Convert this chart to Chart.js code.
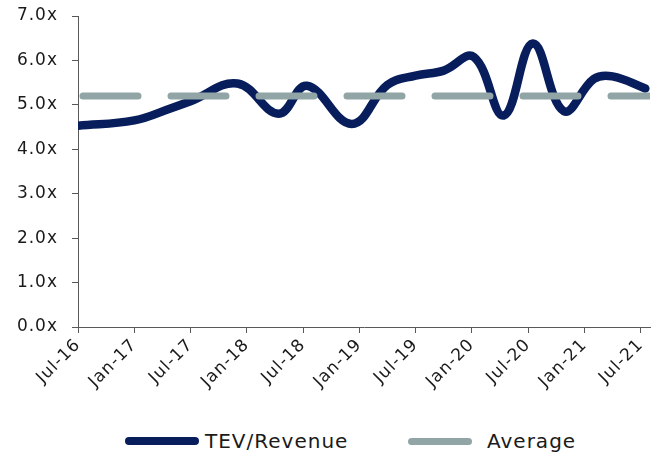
<!DOCTYPE html>
<html>
<head>
<meta charset="utf-8">
<script src="https://cdn.jsdelivr.net/npm/chart.js@4"></script>
<style>
  html, body { margin: 0; padding: 0; background: #fff; }
  #wrap { position: relative; width: 651px; height: 455px; }
  #chart-box { position: absolute; left: 0; top: 0; width: 651px; height: 397px; }
  .legend-item { position: absolute; top: 428px; height: 26px; display: flex; align-items: center;
    font-family: "DejaVu Sans", sans-serif; font-size: 20px; color: #1a1a1a; letter-spacing: 1px; }
  .legend-line { display: inline-block; border-radius: 5px; }
</style>
</head>
<body>
<div id="wrap">
  <div id="chart-box"><canvas id="multiples-chart"></canvas></div>
  <div class="legend-item" style="left:125px;">
    <span class="legend-line" style="width:74px;height:8px;background:#071D5C;margin-right:6px;"></span>TEV/Revenue
  </div>
  <div class="legend-item" style="left:408px;">
    <span class="legend-line" style="width:64px;height:7px;background:#91A4A6;margin-right:15px;"></span>Average
  </div>
</div>
<script>
// --- Data (months counted from Jul-16) ---
const tickLabels = ['Jul-16', 'Jan-17', 'Jul-17', 'Jan-18', 'Jul-18', 'Jan-19',
                    'Jul-19', 'Jan-20', 'Jul-20', 'Jan-21', 'Jul-21'];
const months     = [0, 6, 10, 12, 17, 21.4, 24.4, 29.2, 33, 36, 39, 42.2, 45.4, 48.5, 51.8, 55, 57, 60.5];
const tevRevenue = [4.53, 4.65, 4.93, 5.08, 5.48, 4.8, 5.43, 4.57, 5.45, 5.66, 5.77, 6.08, 4.76, 6.38, 4.86, 5.58, 5.64, 5.37];
const averageValue = 5.2;
const monthRange = [0, 61];

const NAVY = '#071D5C';
const GREY = '#91A4A6';
const AXIS = '#595959';

// wide-ish tick text, closer to the original font
const letterSpacing = {
    id: 'letterSpacing',
    beforeLayout(chart) { chart.ctx.letterSpacing = '1px'; },
    beforeDraw(chart) { chart.ctx.letterSpacing = '1px'; }
};

document.addEventListener('DOMContentLoaded', () => {
    const ctx = document.getElementById('multiples-chart').getContext('2d');

    new Chart(ctx, {
        type: 'line',
        data: {
            datasets: [{
                label: 'TEV/Revenue',
                data: months.map((m, i) => ({ x: m, y: tevRevenue[i] })),
                borderColor: NAVY,
                borderWidth: 8.5,
                borderCapStyle: 'round',
                borderJoinStyle: 'round',
                tension: 0.4,
                pointRadius: 0,
                order: 2
            }, {
                label: 'Average',
                data: monthRange.map(m => ({ x: m, y: averageValue })),
                borderColor: GREY,
                borderWidth: 7,
                borderCapStyle: 'round',
                borderDash: [55, 33],
                borderDashOffset: -5,
                pointRadius: 0,
                order: 1
            }]
        },
        options: {
            responsive: true,
            maintainAspectRatio: false,
            animation: false,
            layout: { padding: { top: 16, right: 1, left: 0, bottom: 0 } },
            plugins: {
                legend: { display: false },
                tooltip: { enabled: false }
            },
            scales: {
                x: {
                    type: 'linear',
                    min: monthRange[0],
                    max: monthRange[1],
                    afterBuildTicks: scale => {
                        scale.ticks = tickLabels.map((_, i) => ({ value: i * 6 }));
                    },
                    afterFit: scale => {
                        scale.height = 70;
                        scale.paddingLeft = 0;
                        scale.paddingRight = 0;
                    },
                    ticks: {
                        callback: v => tickLabels[v / 6],
                        minRotation: 45,
                        maxRotation: 45,
                        autoSkip: false,
                        padding: 2,
                        color: '#1a1a1a',
                        font: { family: 'DejaVu Sans', size: 17 }
                    },
                    grid: { drawOnChartArea: false, drawTicks: true, tickLength: 6, color: AXIS },
                    border: { color: AXIS, width: 1 }
                },
                y: {
                    min: 0,
                    max: 7,
                    afterFit: scale => {
                        scale.width = 78;
                        scale.paddingTop = 0;
                        scale.paddingBottom = 0;
                    },
                    ticks: {
                        stepSize: 1,
                        callback: v => v.toFixed(1) + 'x',
                        padding: 14,
                        color: '#1a1a1a',
                        font: { family: 'DejaVu Sans', size: 17 }
                    },
                    grid: { drawOnChartArea: false, drawTicks: true, tickLength: 6, color: AXIS },
                    border: { color: AXIS, width: 1 }
                }
            }
        },
        plugins: [letterSpacing]
    });
});
</script>
</body>
</html>
